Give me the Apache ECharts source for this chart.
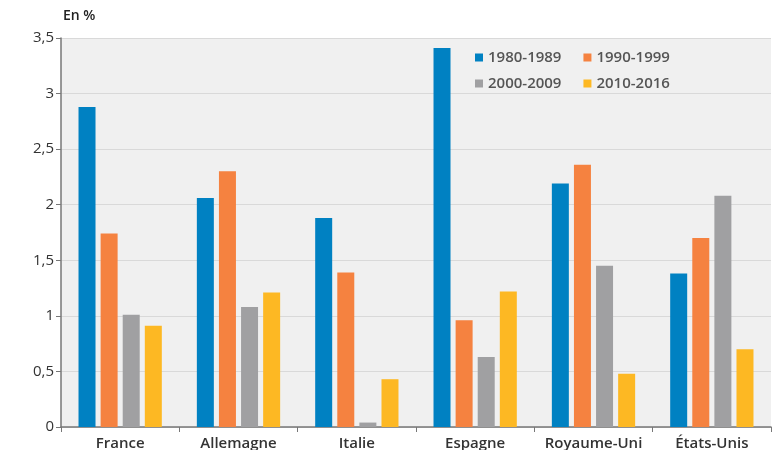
<!DOCTYPE html>
<html>
<head>
<meta charset="utf-8">
<script src="https://cdn.jsdelivr.net/npm/echarts@6/dist/echarts.min.js"></script>
<style>
  html, body { margin: 0; padding: 0; background: #fff; }
  #chart { width: 776px; height: 450px; }
</style>
</head>
<body>
<div id="chart"></div>
<script>
// Pays comparés
const categories = ['France', 'Allemagne', 'Italie', 'Espagne', 'Royaume-Uni', 'États-Unis'];

// Moyennes par décennie, en %
const periods = ['1980-1989', '1990-1999', '2000-2009', '2010-2016'];
const v1980 = [2.88, 2.06, 1.88, 3.41, 2.19, 1.38];
const v1990 = [1.74, 2.30, 1.39, 0.96, 2.36, 1.70];
const v2000 = [1.01, 1.08, 0.04, 0.63, 1.45, 2.08];
const v2010 = [0.91, 1.21, 0.43, 1.22, 0.48, 0.70];

const yTicks = [0, 0.5, 1, 1.5, 2, 2.5, 3, 3.5];

const colors = ['#0081c2', '#f58240', '#a0a0a2', '#fdb823'];
const seriesValues = [v1980, v1990, v2000, v2010];
const font = '"Open Sans", "Noto Sans", sans-serif';

const chart = echarts.init(document.getElementById('chart'));

const legendText = { color: '#555', fontSize: 15, fontWeight: 600, fontFamily: font };

chart.setOption({
  animation: false,
  textStyle: { fontFamily: font },
  grid: {
    left: 61, right: 5, top: 38, bottom: 23,
    outerBoundsMode: 'none',
    show: true, backgroundColor: '#f0f0f0', borderWidth: 0
  },
  title: {
    text: 'En %', left: 63, top: 9, padding: 0,
    textStyle: { fontSize: 14, fontWeight: 600, color: '#222', fontFamily: font }
  },
  legend: [
    {
      data: periods.slice(0, 2), left: 475, top: 50, padding: 0,
      itemWidth: 8, itemHeight: 8, itemGap: 22, icon: 'rect',
      textStyle: legendText
    },
    {
      data: periods.slice(2, 4), left: 475, top: 76, padding: 0,
      itemWidth: 8, itemHeight: 8, itemGap: 22, icon: 'rect',
      textStyle: legendText
    }
  ],
  xAxis: {
    type: 'category',
    data: categories,
    axisLine: { lineStyle: { color: '#777', width: 1.5 } },
    axisTick: { show: true, length: 5, lineStyle: { color: '#777' } },
    axisLabel: {
      interval: 0, color: '#333', fontSize: 15, fontWeight: 600, margin: 9, fontFamily: font
    }
  },
  yAxis: {
    type: 'value',
    min: 0, max: 3.5, interval: 0.5,
    axisLine: { show: true, lineStyle: { color: '#777', width: 1.5 } },
    axisTick: { show: true, length: 5, lineStyle: { color: '#777' } },
    splitLine: { lineStyle: { color: '#d9d9d9' } },
    axisLabel: {
      color: '#333', fontSize: 15, margin: 7, fontFamily: font,
      formatter: v => yTicks.includes(v) ? String(v).replace('.', ',') : ''
    }
  },
  series: periods.map((name, i) => ({
    name,
    type: 'bar',
    data: seriesValues[i],
    barWidth: 17,
    barGap: '30%',
    itemStyle: { color: colors[i] }
  }))
});
</script>
</body>
</html>
